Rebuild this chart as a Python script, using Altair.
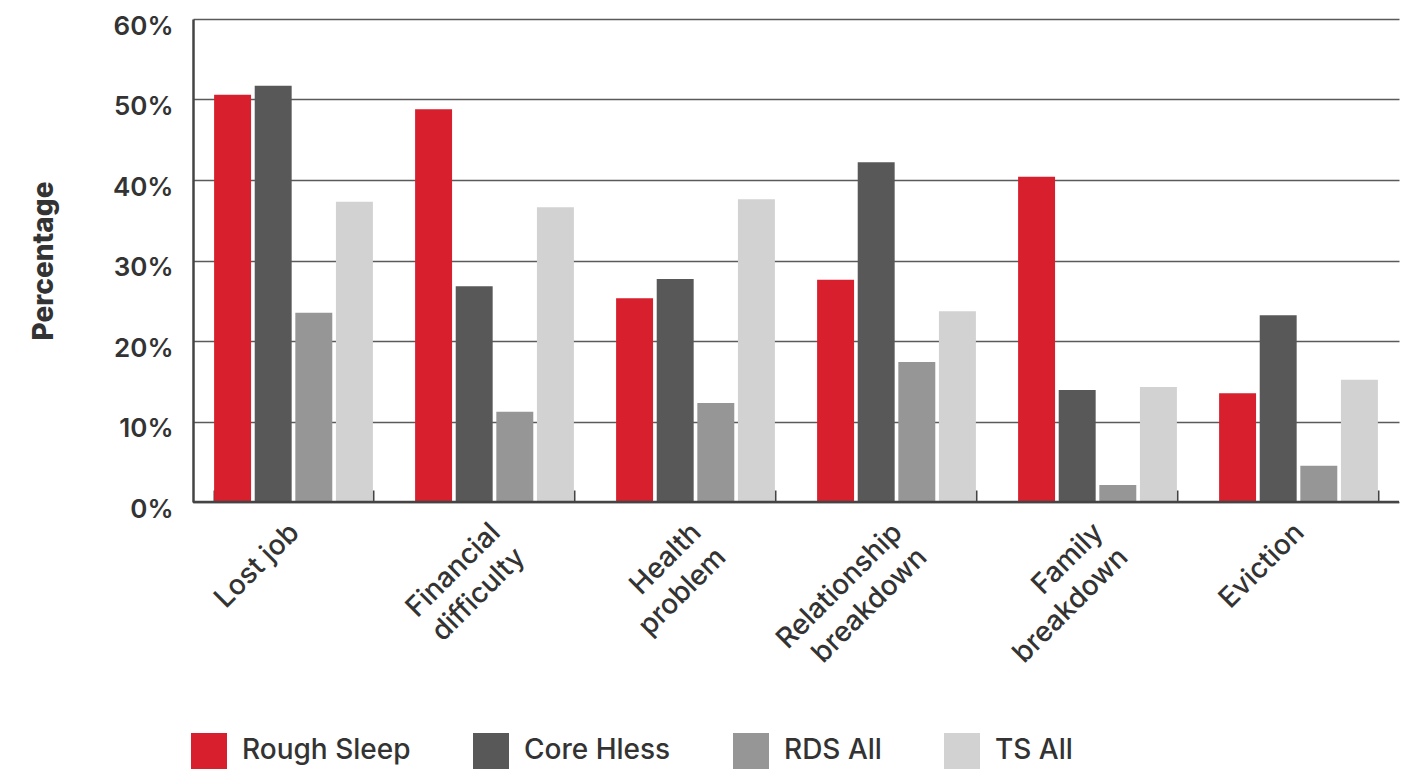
import altair as alt
import pandas as pd

tick_labels = ["Lost job", "Financial|difficulty", "Health|problem",
               "Relationship|breakdown", "Family|breakdown", "Eviction"]
series = ["Rough Sleep", "Core Hless", "RDS All", "TS All"]
colors = ["#D71F2D", "#575857", "#959695", "#D1D2D1"]

rough_sleep = [50.6, 48.8, 25.3, 27.6, 40.4, 13.5]
core_hless = [51.7, 26.8, 27.7, 42.2, 13.9, 23.2]
rds_all = [23.5, 11.2, 12.3, 17.4, 2.1, 4.5]
ts_all = [37.3, 36.6, 37.6, 23.7, 14.3, 15.2]

y_ticks = [0, 10, 20, 30, 40, 50, 60]

values = [rough_sleep, core_hless, rds_all, ts_all]
rows = []
for i, cat in enumerate(tick_labels):
    for s, vals in zip(series, values):
        rows.append({"cat": cat, "series": s, "value": vals[i]})
df = pd.DataFrame(rows)

FONT = "Inter"

bars = alt.Chart(df).mark_bar().encode(
    x=alt.X(
        "cat:N",
        sort=tick_labels,
        scale=alt.Scale(paddingInner=0.21, paddingOuter=0.105),
        axis=alt.Axis(
            title=None,
            labelExpr="split(datum.label, '|')",
            labelAngle=-45,
            labelAlign="right",
            labelBaseline="middle",
            labelPadding=26,
            labelOffset=1,
            labelFont=FONT,
            labelFontSize=28,
            labelFontWeight=500,
            labelLineHeight=35,
            labelColor="#333333",
            labelLimit=0,
            tickBand="extent",
            tickSize=12,
            tickWidth=2,
            tickColor="#444444",
            domain=False,
            offset=-12,
            grid=False,
        ),
    ),
    xOffset=alt.XOffset("series:N", sort=series,
                        scale=alt.Scale(paddingInner=0.09, paddingOuter=0)),
    y=alt.Y(
        "value:Q",
        scale=alt.Scale(domain=[0, 60]),
        axis=alt.Axis(
            values=y_ticks,
            labelExpr="datum.value + '%'",
            title="Percentage",
            titleFont=FONT,
            titleFontSize=28,
            titleFontWeight=800,
            titleColor="#333333",
            titlePadding=54,
            labelFont=FONT,
            labelFontSize=26,
            labelFontWeight=600,
            labelColor="#333333",
            labelPadding=20,
            labelOffset=7,
            ticks=False,
            domainColor="#444444",
            domainWidth=2.5,
            gridColor="#5a5a5a",
            gridWidth=1.5,
        ),
    ),
    color=alt.Color(
        "series:N",
        sort=series,
        scale=alt.Scale(domain=series, range=colors),
        legend=alt.Legend(
            title=None,
            orient="none",
            direction="horizontal",
            legendX=-2,
            legendY=714,
            symbolType="square",
            symbolSize=1296,
            symbolStrokeWidth=0,
            symbolOpacity=1,
            labelFont=FONT,
            labelFontSize=28,
            labelFontWeight=500,
            labelColor="#333333",
            labelOffset=15,
            labelLimit=0,
            columnPadding=62,
            padding=0,
        ),
    ),
)

baseline = alt.Chart(pd.DataFrame({"v": [0]})).mark_rule(
    color="#444444", strokeWidth=2.5
).encode(y="v:Q")

chart = alt.layer(bars, baseline).properties(
    width=1206,
    height=483,
    padding={"left": 22, "top": 5, "right": 5, "bottom": 0},
).configure_view(stroke=None)

chart.save("out.html", embed_options={"renderer": "svg", "actions": False})
